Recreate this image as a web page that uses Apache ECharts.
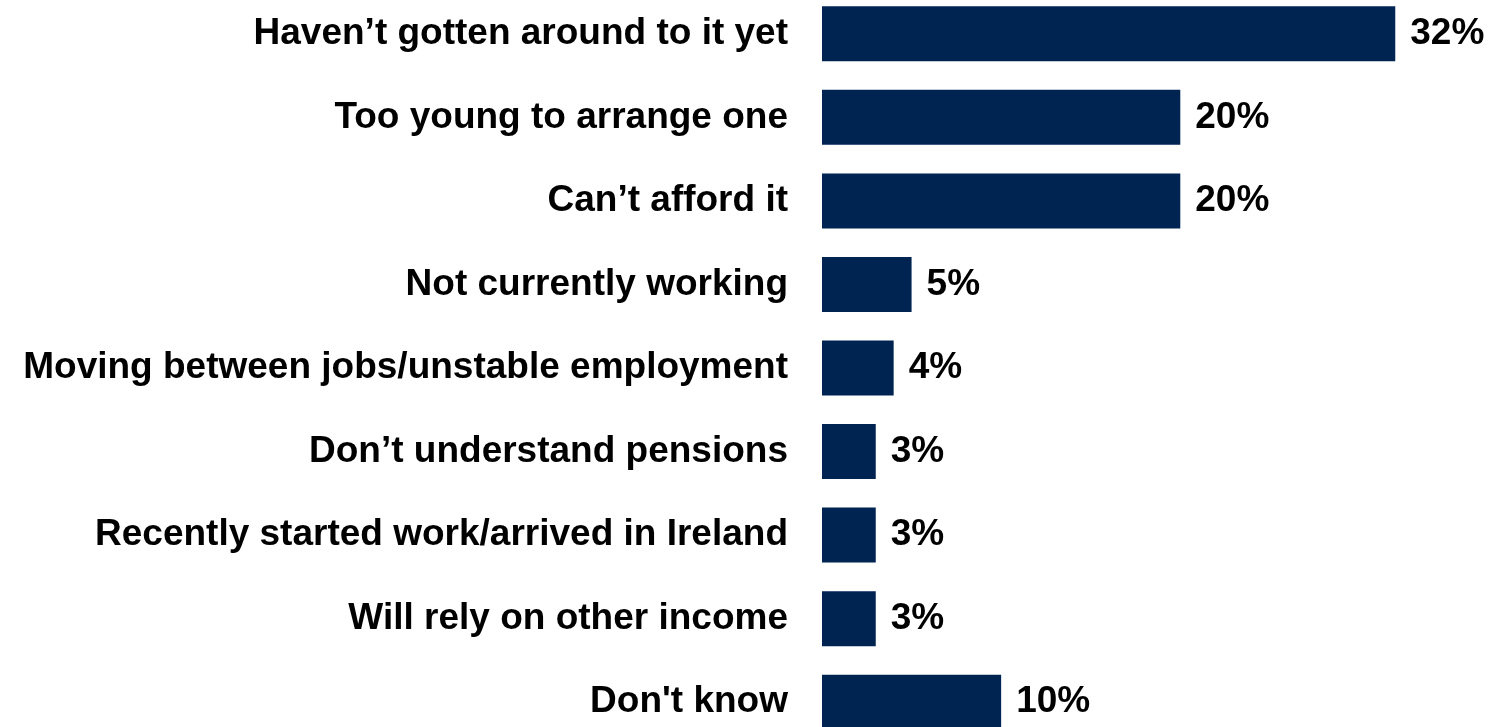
<!DOCTYPE html>
<html>
<head>
<meta charset="utf-8">
<script src="https://cdn.jsdelivr.net/npm/echarts@6/dist/echarts.min.js"></script>
<style>
  html, body { margin: 0; padding: 0; background: #fff; overflow: hidden; }
  /* chart runs a little past the top and bottom of the window, like the source */
  #main { width: 1489px; height: 752px; margin-top: -8px; }
</style>
</head>
<body>
<div id="main"></div>
<script>
// reasons for not having a pension (%)
var reasons = [
  "Haven\u2019t gotten around to it yet",
  "Too young to arrange one",
  "Can\u2019t afford it",
  "Not currently working",
  "Moving between jobs/unstable employment",
  "Don\u2019t understand pensions",
  "Recently started work/arrived in Ireland",
  "Will rely on other income",
  "Don't know"
];
var shares = [32, 20, 20, 5, 4, 3, 3, 3, 10];

var myChart = echarts.init(document.getElementById("main"));
var option;

option = {
  animation: false,
  grid: {
    left: 822,
    right: 40,
    top: 0,
    bottom: 0
  },
  xAxis: {
    type: "value",
    min: 0,
    max: 35,
    show: false
  },
  yAxis: {
    type: "category",
    data: reasons,
    inverse: true,
    axisLine: { show: false },
    axisTick: { show: false },
    axisLabel: {
      margin: 34,
      color: "#000",
      fontFamily: "Liberation Sans, Arial, sans-serif",
      fontWeight: "bold",
      fontSize: 37
    }
  },
  series: [
    {
      type: "bar",
      data: shares,
      barWidth: 55,
      itemStyle: { color: "#002452" },
      label: {
        show: true,
        position: "right",
        distance: 15,
        formatter: "{c}%",
        color: "#000",
        fontFamily: "Liberation Sans, Arial, sans-serif",
        fontWeight: "bold",
        fontSize: 37
      }
    }
  ]
};

option && myChart.setOption(option);
</script>
</body>
</html>
